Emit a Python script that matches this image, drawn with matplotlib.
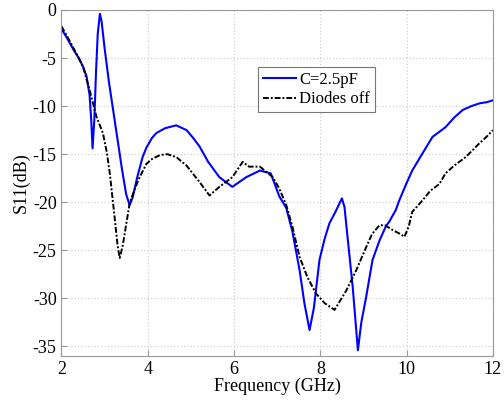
import matplotlib
matplotlib.use("Agg")
import matplotlib.pyplot as plt

plt.rcParams['font.family'] = ['Liberation Serif', 'DejaVu Serif']
plt.rcParams['axes.unicode_minus'] = False

freq_c = [2.0, 2.1, 2.2, 2.3, 2.4, 2.5, 2.58, 2.65, 2.69, 2.72, 2.76, 2.8, 2.84, 2.89,
          2.93, 3.0, 3.1, 3.2, 3.3, 3.4, 3.5, 3.58, 3.65, 3.75, 3.88, 3.97, 4.1, 4.2,
          4.4, 4.66, 4.9, 5.05, 5.2, 5.4, 5.66, 5.96, 6.28, 6.6, 6.85, 7.05, 7.21, 7.35,
          7.52, 7.63, 7.75, 7.85, 7.98, 8.1, 8.21, 8.35, 8.5, 8.56, 8.63, 8.75, 8.87,
          8.95, 9.06, 9.21, 9.37, 9.52, 9.6, 9.75, 9.83, 10.0, 10.13, 10.37, 10.6, 10.9,
          11.1, 11.3, 11.5, 11.7, 11.85, 12.0]
s11_c = [-2.0, -2.7, -3.5, -4.3, -5.0, -5.9, -6.9, -8.8, -11.5, -14.4, -11.5, -6.5, -2.5, -0.4,
         -1.2, -4.0, -7.5, -10.5, -13.5, -16.5, -19.2, -20.3, -19.5, -17.5, -15.3, -14.3, -13.3, -12.8,
         -12.3, -12.0, -12.5, -13.3, -14.2, -15.8, -17.4, -18.4, -17.4, -16.7, -17.0, -19.4, -20.6, -23.0,
         -27.1, -30.5, -33.3, -31.0, -26.0, -23.8, -22.2, -21.0, -19.6, -20.5, -23.6, -28.8, -35.4,
         -32.5, -29.9, -26.0, -24.0, -22.5, -22.0, -20.8, -19.8, -18.0, -16.7, -14.9, -13.2, -12.2,
         -11.2, -10.4, -10.0, -9.7, -9.6, -9.4]

freq_off = [2.0, 2.2, 2.4, 2.5, 2.65, 2.81, 2.96, 3.05, 3.12, 3.23, 3.3, 3.35, 3.42, 3.5,
            3.58, 3.7, 3.81, 3.97, 4.1, 4.28, 4.45, 4.66, 4.9, 5.2, 5.43, 5.66, 5.96, 6.2,
            6.35, 6.6, 6.9, 7.05, 7.21, 7.35, 7.52, 7.7, 7.9, 8.1, 8.33, 8.6, 8.83, 9.06,
            9.2, 9.37, 9.5, 9.68, 9.85, 9.95, 10.05, 10.13, 10.37, 10.55, 10.76, 10.9, 11.1,
            11.37, 11.68, 11.85, 12.0]
s11_off = [-1.7, -3.3, -5.0, -5.9, -8.3, -11.1, -12.8, -14.8, -17.0, -21.5, -24.5, -25.8, -24.5, -22.3,
           -20.1, -18.6, -17.4, -16.0, -15.5, -15.1, -15.0, -15.3, -16.2, -17.9, -19.3, -18.4, -17.4, -15.8,
           -16.3, -16.3, -17.4, -18.6, -20.3, -22.5, -25.7, -27.8, -29.5, -30.5, -31.2, -29.2, -27.1, -24.7,
           -23.3, -22.4, -22.4, -22.9, -23.3, -23.6, -22.5, -21.0, -19.8, -18.8, -18.1, -17.0, -16.2,
           -15.3, -13.9, -13.2, -12.5]

xticks = [2, 4, 6, 8, 10, 12]
yticks = [0, -5, -10, -15, -20, -25, -30, -35]

fig = plt.figure(figsize=(5.04, 4.0), dpi=100)
ax = fig.add_axes([0.122, 0.11, 0.856, 0.865])

ax.plot(freq_c, s11_c, color='#0000ff', lw=1.5, label='C=2.5pF')
ax.plot(freq_off, s11_off, color='black', lw=1.4, linestyle=(0, (3, 1, 1, 1)), label='Diodes off')

ax.set_xlim(2, 12)
ax.set_ylim(-36, 0)
ax.set_xticks(xticks)
ax.set_yticks(yticks)
ax.tick_params(direction='in', labelsize=13, length=4, color='#999999')
ax.grid(True, linestyle=':', color='#d0d0d0', linewidth=0.9)
for s in ax.spines.values():
    s.set_color('#999999')

ax.set_xlabel('Frequency (GHz)', fontsize=13, labelpad=0)
ax.set_ylabel('S11(dB)', fontsize=13, labelpad=2)

leg = ax.legend(loc='upper right', bbox_to_anchor=(0.727, 0.835), fontsize=12,
                frameon=True, fancybox=False, edgecolor='#555555', handlelength=2.0,
                handletextpad=0.2, borderpad=0.3, labelspacing=0.2, borderaxespad=0)
leg.get_frame().set_linewidth(0.8)

fig.savefig('out.png', dpi=100)
